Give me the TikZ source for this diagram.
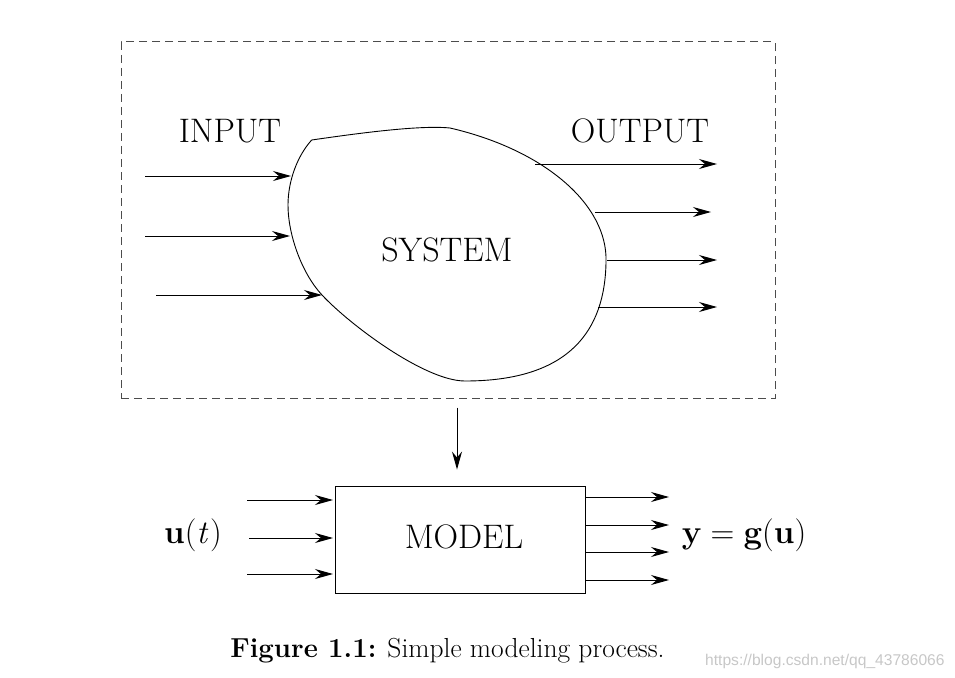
\documentclass[tikz,border=0pt]{standalone}
\usepackage{fontspec}
\newfontfamily\wmfont{Liberation Sans}
\usetikzlibrary{arrows.meta}
\tikzset{
  arr/.style={line width=1pt,-{Stealth[length=18pt,width=10pt,inset=6pt]}},
  lbl/.style={font=\fontsize{34}{40}\selectfont, inner sep=0pt},
  mlbl/.style={font=\fontsize{33}{39}\selectfont, inner sep=0pt},
  blob/.style={line width=0.9pt},
  frame/.style={draw=black!70, line width=1pt, dash pattern=on 8pt off 5pt}
}
\begin{document}
\begin{tikzpicture}[x=1pt,y=-1pt]
\useasboundingbox (0,0) rectangle (955,677);
% frame
\node[frame, minimum width=654pt, minimum height=356pt, inner sep=0pt] (frame) at (448,220) {};
% blob
\draw[blob] (311.7,140) .. controls (360,133) and (420,125) .. (450,128)
  .. controls (545,150) and (608,205) .. (606,262)
  .. controls (605,330) and (570,381) .. (465,381)
  .. controls (425,381) and (350,325) .. (322,295)
  .. controls (302,273.6) and (288,235) .. (288,205)
  .. controls (288,180) and (298,155) .. (311.7,140);
\node[lbl] (system) at (447,250) {SYSTEM};
\node[lbl] (input) at (230,131) {INPUT};
\node[lbl] (output) at (640,131) {OUTPUT};
% input coordinates
\coordinate (i1s) at (145,176); \coordinate (i1e) at (291,176);
\coordinate (i2s) at (145,236); \coordinate (i2e) at (290,236);
\coordinate (i3s) at (156,295); \coordinate (i3e) at (322,295);
\draw[arr] (i1s) -- (i1e);
\draw[arr] (i2s) -- (i2e);
\draw[arr] (i3s) -- (i3e);
% output coordinates
\coordinate (o1s) at (535,164); \coordinate (o1e) at (717,164);
\coordinate (o2s) at (595,212); \coordinate (o2e) at (711,212);
\coordinate (o3s) at (607,260); \coordinate (o3e) at (717,260);
\coordinate (o4s) at (598,307); \coordinate (o4e) at (717,307);
\draw[arr] (o1s) -- (o1e);
\draw[arr] (o2s) -- (o2e);
\draw[arr] (o3s) -- (o3e);
\draw[arr] (o4s) -- (o4e);
% model
\node[draw, line width=0.9pt, minimum width=250pt, minimum height=107pt, inner sep=0pt] (model) at (460,539.5) {};
\node[lbl] (modeltxt) at (464,537) {MODEL};
\draw[arr, shorten <=9pt, shorten >=16pt] (frame.south -| 457,0) -- (model.north -| 457,0);
% model inputs
\coordinate (m1s) at (247,500); \coordinate (m1e) at (333,500);
\coordinate (m2s) at (249,538); \coordinate (m2e) at (333,538);
\coordinate (m3s) at (247,574); \coordinate (m3e) at (333,574);
\draw[arr] (m1s) -- (m1e);
\draw[arr] (m2s) -- (m2e);
\draw[arr] (m3s) -- (m3e);
% model outputs
\coordinate (n1s) at (585,497); \coordinate (n1e) at (669,497);
\coordinate (n2s) at (585,525); \coordinate (n2e) at (669,525);
\coordinate (n3s) at (585,552); \coordinate (n3e) at (669,552);
\coordinate (n4s) at (585,580); \coordinate (n4e) at (669,580);
\draw[arr] (n1s) -- (n1e);
\draw[arr] (n2s) -- (n2e);
\draw[arr] (n3s) -- (n3e);
\draw[arr] (n4s) -- (n4e);
\node[mlbl] (ut) at (193,535) {\textbf{u}(\textit{t}\kern0.05em)};
\node[mlbl] (yg) at (744,535) {\textbf{y}\kern0.28em=\kern0.28em\textbf{g}(\textbf{u})};
% caption
\node[font=\fontsize{27.5}{33}\selectfont, inner sep=0pt, anchor=base] (cap) at (447.5,657) {\textbf{Figure 1.1:} Simple modeling process.};
\node[font=\wmfont\fontsize{15.6}{18}\selectfont, text=black!22, inner sep=0pt, anchor=base west] (wm) at (705,665) {https://blog.csdn.net/qq\_43786066};
\end{tikzpicture}
\end{document}
